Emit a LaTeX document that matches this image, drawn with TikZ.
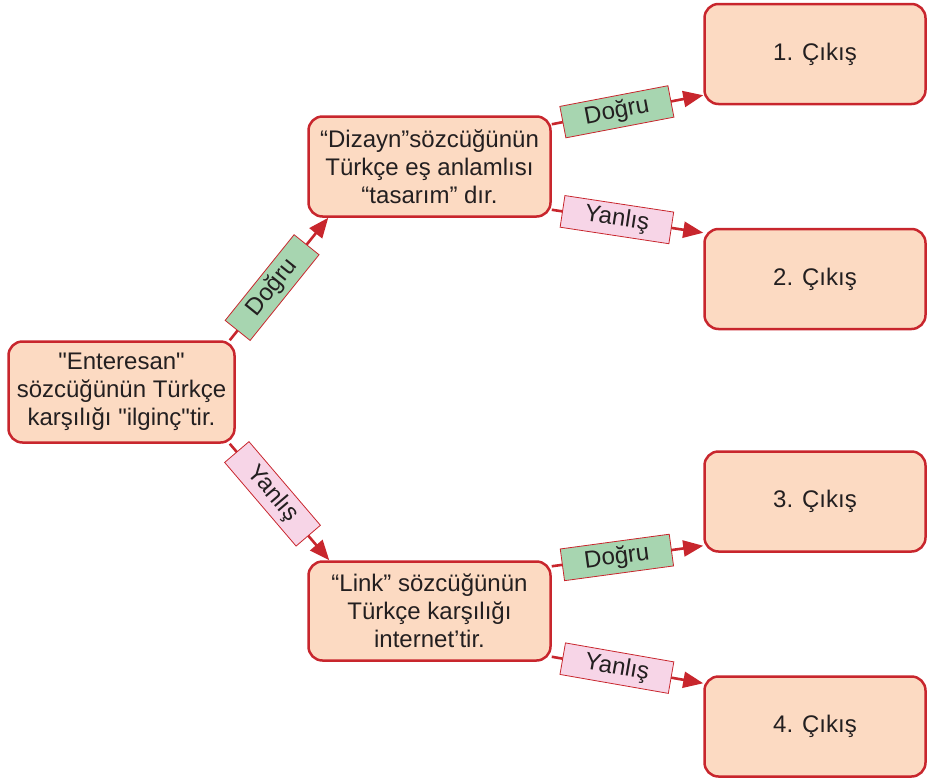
\documentclass[tikz,border=0pt]{standalone}
\usepackage{fontspec}
\setmainfont{Liberation Sans}[Ligatures=TeXOff]
\usetikzlibrary{arrows.meta}
\definecolor{boxred}{HTML}{C8262D}
\definecolor{peach}{HTML}{FCDAC2}
\definecolor{okgreen}{HTML}{A7D5B0}
\definecolor{nopink}{HTML}{F7D5E7}
\definecolor{ink}{HTML}{231F20}
\begin{document}
\begin{tikzpicture}
    [x=1pt,y=-1pt,
     box/.style={draw=boxred,fill=peach,line width=2.5pt,rounded corners=14pt,text=ink,align=center,inner sep=0pt,font=\fontsize{24}{27.8}\selectfont},
     exitbox/.style={box,minimum width=221pt,minimum height=100pt},
     arr/.style={-{Triangle[length=20pt,width=16pt]},draw=boxred,line width=2.6pt},
     yes/.style={draw=boxred,fill=okgreen,line width=0.8pt,text=ink,sloped,minimum width=110pt,minimum height=32pt,inner sep=0pt,font=\fontsize{24}{27}\selectfont,pos=0.43},
     no/.style={yes,fill=nopink}]
    \useasboundingbox (0,0) rectangle (928,782);
    \node [box,minimum width=226pt,minimum height=101pt] (start) at (121.5,392) {"Enteresan"\\sözcüğünün Türkçe\\karşılığı "ilginç"tir.};
    \node [box,minimum width=242pt,minimum height=100pt] (q1) at (429.5,166.5) {“Dizayn”sözcüğünün\\Türkçe eş anlamlısı\\“tasarım” dır.};
    \node [box,minimum width=242pt,minimum height=99pt] (q2) at (429.5,611) {“Link” sözcüğünün\\Türkçe karşılığı\\internet’tir.};
    \node [exitbox] (e1) at (815,54) {1. Çıkış};
    \node [exitbox] (e2) at (815,279) {2. Çıkış};
    \node [exitbox] (e3) at (815,501.5) {3. Çıkış};
    \node [exitbox] (e4) at (815,726.5) {4. Çıkış};
    \draw [arr] ([xshift=-6pt]start.north east) -- node[yes] {Doğru} ([xshift=21pt]q1.south west);
    \draw [arr] ([xshift=-6pt]start.south east) -- node[no] {Yanlış} ([xshift=22pt]q2.north west);
    \draw [arr] ([yshift=-9pt]q1.north east) -- node[yes] {Doğru} ([yshift=10pt]e1.south west);
    \draw [arr] ([yshift=8pt]q1.south east) -- node[no] {Yanlış} ([yshift=-5pt]e2.north west);
    \draw [arr] ([yshift=-6pt]q2.north east) -- node[yes] {Doğru} ([yshift=7pt]e3.south west);
    \draw [arr] ([yshift=5pt]q2.south east) -- node[no] {Yanlış} ([yshift=-8pt]e4.north west);
\end{tikzpicture}
\end{document}
